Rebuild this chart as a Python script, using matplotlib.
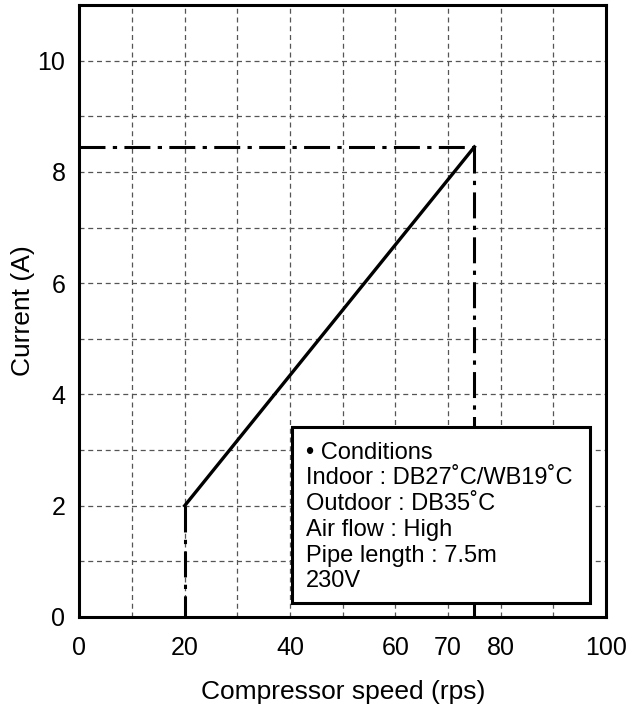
import matplotlib.pyplot as plt
from matplotlib.patches import Rectangle

plt.rcParams['font.family'] = ['Liberation Sans', 'DejaVu Sans']

# 压缩机转速 - 电流 曲线
speed = [20, 75]
current = [2.0, 8.45]

# 上限/下限的点划线
max_speed = 75
max_current = 8.45
min_speed = 20
min_current = 2.0

x_ticks = [0, 20, 40, 60, 70, 80, 100]
y_ticks = [0, 2, 4, 6, 8, 10]

conditions = ["\u2022 Conditions",
              "Indoor : DB27\u02daC/WB19\u02daC",
              "Outdoor : DB35\u02daC",
              "Air flow : High",
              "Pipe length : 7.5m",
              "230V"]

fig = plt.figure(figsize=(6.32, 7.25), dpi=100)
ax = fig.add_axes([0.1255, 0.149, 0.8335, 0.844])

ax.set_xlim(0, 100)
ax.set_ylim(0, 11)

# 网格（虚线，每10 rps / 每1 A）
ax.set_xticks(x_ticks)
ax.set_yticks(y_ticks)
for gx in range(10, 100, 10):
    ax.axvline(gx, color='#555555', linestyle=(0, (4, 3)), linewidth=0.9, zorder=1)
for gy in range(1, 11):
    ax.axhline(gy, color='#555555', linestyle=(0, (4, 3)), linewidth=0.9, zorder=1)
ax.tick_params(which='both', length=0, labelsize=18)
ax.tick_params(axis='x', pad=14)
ax.tick_params(axis='y', pad=10)

# 主曲线
ax.plot(speed, current, color='black', linewidth=2.4, zorder=3)

# 点划线
dashdot = (0, (8.5, 2.4, 1.4, 2.4))
ax.plot([0, max_speed], [max_current, max_current], color='black',
        linewidth=2.2, linestyle=dashdot, zorder=3)
ax.plot([max_speed, max_speed], [max_current, 0], color='black',
        linewidth=2.2, linestyle=dashdot, zorder=3)
ax.plot([min_speed, min_speed], [min_current, 0], color='black',
        linewidth=2.2, linestyle=dashdot, zorder=3)

for s in ax.spines.values():
    s.set_linewidth(2.2)
    s.set_zorder(6)

ax.set_xlabel("Compressor speed (rps)", fontsize=19, labelpad=14)
ax.set_ylabel("Current (A)", fontsize=19, labelpad=2)

# 条件说明框
ax.add_patch(Rectangle((40.4, 0.25), 56.5, 3.16, facecolor='white',
                       edgecolor='black', linewidth=2.2, zorder=4))
ax.text(43.0, 3.15, "\n".join(conditions), fontsize=17, va='top', ha='left',
        linespacing=1.22, zorder=5)

plt.savefig('out.png', dpi=100)
